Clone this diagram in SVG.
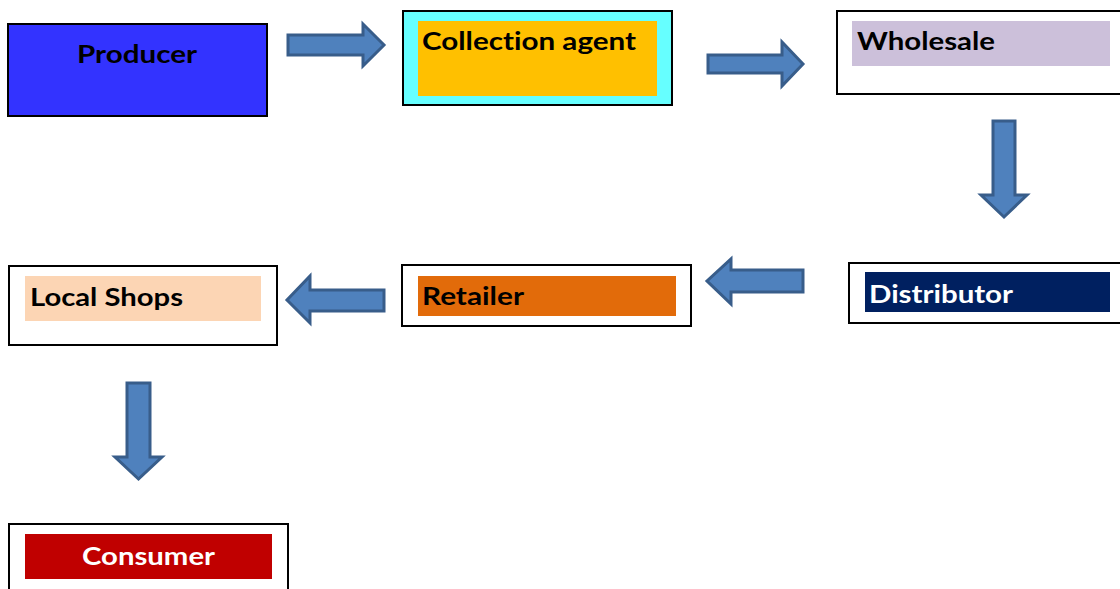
<svg xmlns="http://www.w3.org/2000/svg" width="1120" height="589" viewBox="0 0 1120 589">
  <style>
    .box { stroke: #000; stroke-width: 2; }
    .lbl { font-family: Lato, "Open Sans", "Liberation Sans", sans-serif; font-weight: bold; font-size: 25px; font-variant-ligatures: none; }
    .arrow { fill: #4F81BD; stroke: #385D8A; stroke-width: 3; stroke-linejoin: miter; }
  </style>
  <rect width="1120" height="589" fill="#fff"/>

  <g id="producer">
    <rect class="box" x="8" y="24" width="259" height="92" fill="#3333FF"/>
    <text class="lbl" x="77" y="63" textLength="120" lengthAdjust="spacingAndGlyphs" fill="#000">Producer</text>
  </g>

  <g id="collection-agent">
    <rect class="box" x="403" y="11" width="269" height="94" fill="#66FFFF"/>
    <rect x="418" y="21" width="239" height="75" fill="#FFC000"/>
    <text class="lbl" x="422" y="50" textLength="214" lengthAdjust="spacingAndGlyphs" fill="#000">Collection agent</text>
  </g>

  <g id="wholesale">
    <rect class="box" x="837" y="11" width="290" height="83" fill="#fff"/>
    <rect x="852" y="21" width="258" height="45" fill="#CCC0DA"/>
    <text class="lbl" x="857" y="50" textLength="138" lengthAdjust="spacingAndGlyphs" fill="#000">Wholesale</text>
  </g>

  <g id="distributor">
    <rect class="box" x="849" y="263" width="280" height="60" fill="#fff"/>
    <rect x="865" y="272" width="245" height="40" fill="#002060"/>
    <text class="lbl" x="869" y="303" textLength="144" lengthAdjust="spacingAndGlyphs" fill="#fff">Distributor</text>
  </g>

  <g id="retailer">
    <rect class="box" x="402" y="265" width="289" height="61" fill="#fff"/>
    <rect x="418" y="276" width="258" height="40" fill="#E26B0A"/>
    <text class="lbl" x="422" y="305" textLength="102" lengthAdjust="spacingAndGlyphs" fill="#000">Retailer</text>
  </g>

  <g id="local-shops">
    <rect class="box" x="9" y="266" width="268" height="79" fill="#fff"/>
    <rect x="25" y="276" width="236" height="45" fill="#FCD5B4"/>
    <text class="lbl" x="30" y="306" textLength="153" lengthAdjust="spacingAndGlyphs" fill="#000">Local Shops</text>
  </g>

  <g id="consumer">
    <rect class="box" x="9" y="524" width="279" height="80" fill="#fff"/>
    <rect x="25" y="534" width="247" height="45" fill="#C00000"/>
    <text class="lbl" x="82" y="565" textLength="133" lengthAdjust="spacingAndGlyphs" fill="#fff">Consumer</text>
  </g>

  <g id="connectors">
    <!-- producer to collection agent -->
    <polygon class="arrow" points="288,35 363,35 363,24 384,45 363,66 363,55 288,55"/>
    <!-- collection agent to wholesale -->
    <polygon class="arrow" points="708,55 782,55 782,42 803,64 782,86 782,73 708,73"/>
    <!-- wholesale to distributor -->
    <polygon class="arrow" points="993,121 1015,121 1015,195 1027,195 1004,217 981,195 993,195"/>
    <!-- distributor to retailer -->
    <polygon class="arrow" points="803,270 731,270 731,259 707,281 731,304 731,292 803,292"/>
    <!-- retailer to local shops -->
    <polygon class="arrow" points="384,290 310,290 310,276 287,300 310,323 310,311 384,311"/>
    <!-- local shops to consumer -->
    <polygon class="arrow" points="127,383 150,383 150,457 162,457 138.5,479 115,457 127,457"/>
  </g>
</svg>
